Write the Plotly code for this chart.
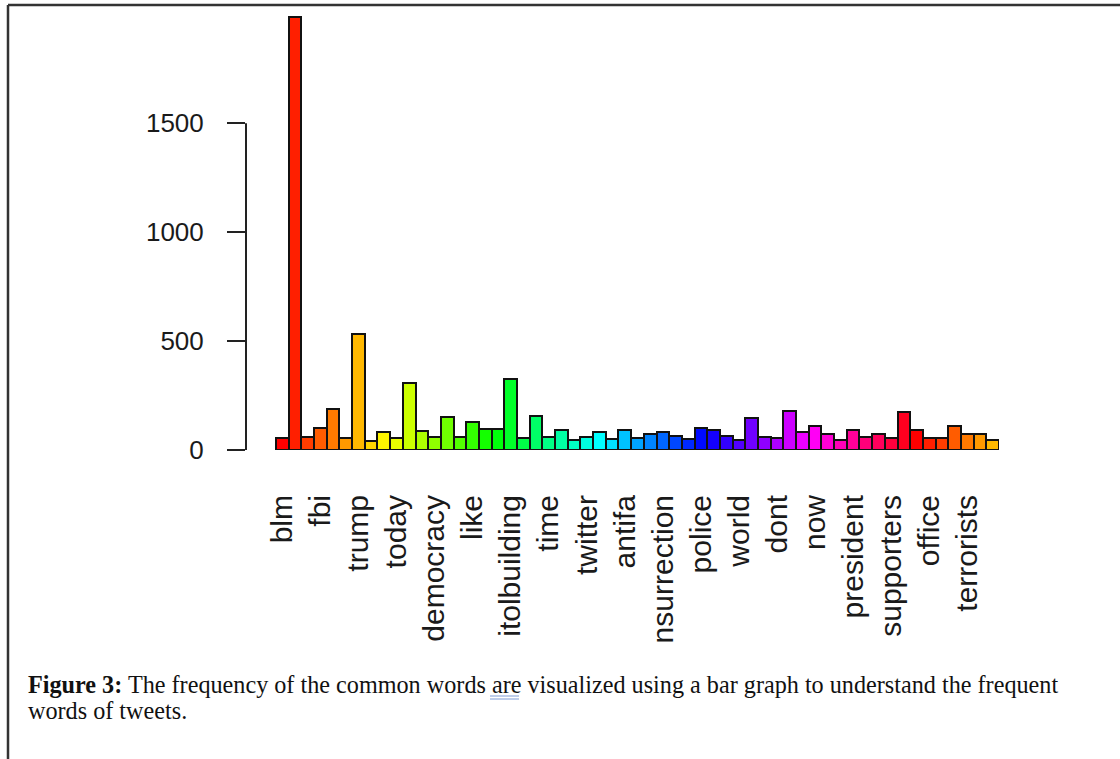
import colorsys
import plotly.graph_objects as go

# ---- data ----
values = [54, 1990, 61, 99, 188, 54, 531, 43, 81, 54,
          306, 89, 61, 153, 61, 127, 96, 96, 326, 54,
          156, 61, 92, 46, 61, 81, 50, 92, 54, 73,
          81, 66, 50, 99, 92, 66, 46, 145, 61, 54,
          180, 81, 110, 73, 46, 92, 61, 73, 54, 173,
          92, 54, 54, 110, 73, 73, 46]
# only every third word label is printed on the original chart
label_positions = [1, 4, 7, 10, 13, 16, 19, 22, 25, 28,
                   31, 34, 37, 40, 43, 46, 49, 52, 55]
label_text = ["blm", "fbi", "trump", "today", "democracy", "like",
              "itolbuilding", "time", "twitter", "antifa", "nsurrection",
              "police", "world", "dont", "now", "president", "supporters",
              "office", "terrorists"]
y_ticks = [0, 500, 1000, 1500]
caption_bold = "Figure 3:"
caption_line1 = (" The frequency of the common words are visualized using a "
                 "bar graph to understand the frequent")
caption_line2 = "words of tweets."

# ---- geometry ----
W, H = 1120, 759
ML, MR, MT, MB = 246, 121, 10, 309
PW, PH = W - ML - MR, H - MT - MB


def px2x(px):
    return (px - ML) / PW


def py2y(py):
    return (H - MB - py) / PH


n = len(values)
positions = list(range(1, n + 1))
colors = []
for i in range(n):
    r, g, b = colorsys.hsv_to_rgb((i % 50) / 50.0, 1, 1)
    colors.append("rgb(%d,%d,%d)" % (round(r * 255), round(g * 255), round(b * 255)))

fig = go.Figure(go.Bar(
    x=positions, y=values, width=1,
    marker=dict(color=colors, line=dict(color="#111111", width=2)),
    hoverinfo="x+y",
))

unit = (999 - 276) / n
xmin = 0.5 - (276 - ML) / unit
ytop = (450 - MT) / ((450 - 123.3) / 1500)

fig.update_layout(
    width=W, height=H,
    margin=dict(l=ML, r=MR, t=MT, b=MB, pad=0),
    paper_bgcolor="white", plot_bgcolor="white",
    showlegend=False, bargap=0,
    font=dict(family="Liberation Sans, Arial, sans-serif", color="#1a1a1a"),
    xaxis=dict(range=[xmin, n + 0.5], showgrid=False, zeroline=False,
               showline=False, ticks="", tickmode="array",
               tickvals=label_positions, ticktext=label_text,
               tickangle=-90, tickfont=dict(size=30, color="#1a1a1a"),
               ticklabelstandoff=38),
    yaxis=dict(range=[0, ytop], showgrid=False, zeroline=False,
               showline=False, ticks="outside", ticklen=18, tickwidth=2,
               tickcolor="#222222", tickmode="array", tickvals=y_ticks,
               tickfont=dict(size=26, color="#1a1a1a"),
               ticklabelstandoff=18),
)

shapes = [
    # R-style y axis line spanning first to last tick
    dict(type="line", xref="paper", yref="y", x0=0, x1=0,
         y0=y_ticks[0], y1=y_ticks[-1], line=dict(color="#222222", width=2)),
    # page border (top and left)
    dict(type="line", xref="paper", yref="paper", x0=px2x(8), x1=px2x(1125),
         y0=py2y(5), y1=py2y(5), line=dict(color="#333333", width=2.5)),
    dict(type="line", xref="paper", yref="paper", x0=px2x(8), x1=px2x(8),
         y0=py2y(5), y1=py2y(765), line=dict(color="#333333", width=2.5)),
    # grammar-check double underline under "are"
    dict(type="line", xref="paper", yref="paper", x0=px2x(490), x1=px2x(519),
         y0=py2y(696), y1=py2y(696), line=dict(color="#7f9bd6", width=1)),
    dict(type="line", xref="paper", yref="paper", x0=px2x(490), x1=px2x(519),
         y0=py2y(699), y1=py2y(699), line=dict(color="#7f9bd6", width=1)),
]
fig.update_layout(shapes=shapes)

cap_font = dict(family="Liberation Serif, Times New Roman, serif", size=24.2, color="#111111")
fig.add_annotation(xref="paper", yref="paper", x=px2x(26), y=py2y(668.6),
                   xanchor="left", yanchor="top", showarrow=False, align="left",
                   text="<b>" + caption_bold + "</b>" + caption_line1, font=cap_font)
fig.add_annotation(xref="paper", yref="paper", x=px2x(26), y=py2y(694.6),
                   xanchor="left", yanchor="top", showarrow=False, align="left",
                   text=caption_line2, font=cap_font)

fig.write_html("out.html", config={"displayModeBar": False},
               post_script="document.body.style.margin='0px';")
